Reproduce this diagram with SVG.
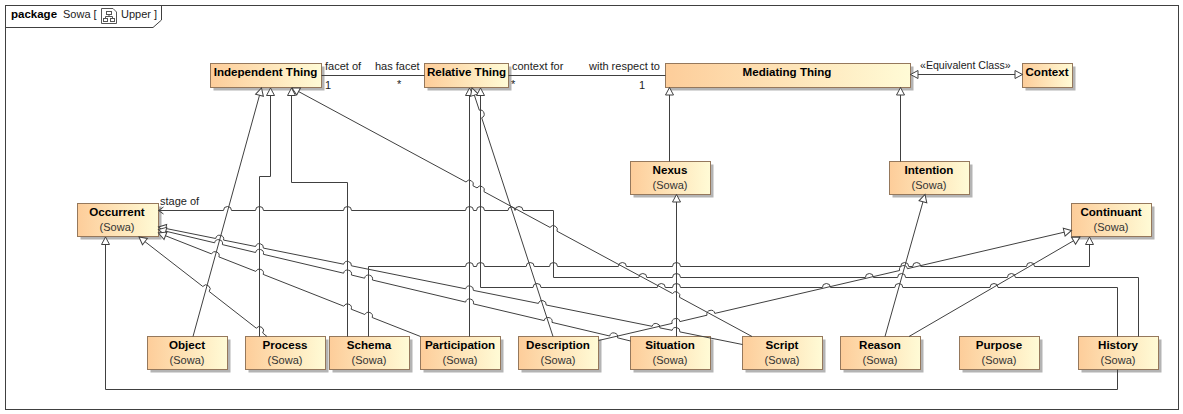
<svg xmlns="http://www.w3.org/2000/svg" width="1183" height="414" viewBox="0 0 1183 414">
<style>
text{font-family:"Liberation Sans",Arial,sans-serif;font-size:11px;fill:#222}
.t{font-weight:bold;font-size:11.6px;fill:#000;text-anchor:middle}
.s{text-anchor:middle;fill:#333}
.b{fill:url(#g);stroke:#95785c;stroke-width:1}
.sh{fill:#b4b4b4}
.c{fill:none;stroke:#404040;stroke-width:1}
.ge{marker-end:url(#tri)}
.gs{marker-start:url(#tri)}
.oe{marker-end:url(#open)}
</style>
<defs>
<linearGradient id="g" x1="0" y1="0" x2="1" y2="0"><stop offset="0" stop-color="#fdcd9a"/><stop offset="1" stop-color="#fffbd6"/></linearGradient>
<marker id="tri" markerUnits="userSpaceOnUse" markerWidth="12" markerHeight="12" viewBox="-10 -6 12 12" refX="0" refY="0" orient="auto-start-reverse"><path d="M-7.5 -4L0 0L-7.5 4Z" fill="#fff" stroke="#404040" stroke-width="1"/></marker>
<marker id="open" markerUnits="userSpaceOnUse" markerWidth="12" markerHeight="12" viewBox="-10 -6 12 12" refX="0" refY="0" orient="auto"><path d="M-5 -3.5L0 0L-5 3.5" fill="none" stroke="#404040" stroke-width="1"/></marker>
</defs>
<rect width="1183" height="414" fill="#fff"/>
<g id="frame">
<rect x="5.5" y="5.5" width="1173" height="404" fill="none" stroke="#404040"/>
<path d="M5.5 27.5H153L161.5 20V5.5" fill="none" stroke="#404040"/>
<text x="11" y="18" style="font-weight:bold;font-size:11.5px;fill:#000">package</text>
<text x="63" y="18">Sowa [</text>
<g fill="none" stroke="#555" stroke-width="1">
<path d="M101.5 8.5H113L116.5 12V23.5H101.5Z"/>
<rect x="106.5" y="11.5" width="5" height="3"/><rect x="103.5" y="18.5" width="4" height="3"/><rect x="110.5" y="18.5" width="4" height="3"/>
<path d="M109 14.5V16.5H105.5V18.5M109 16.5H112.5V18.5"/>
</g>
<text x="121" y="18">Upper ]</text>
</g>
<g id="n-independent"><rect class="sh" x="213.5" y="66.5" width="111" height="24"/><rect class="b" x="210.5" y="63.5" width="111" height="24"/><text class="t" x="265.5" y="76">Independent Thing</text></g>
<g id="n-relative"><rect class="sh" x="427.5" y="66.5" width="84" height="24"/><rect class="b" x="424.5" y="63.5" width="84" height="24"/><text class="t" x="466.5" y="76">Relative Thing</text></g>
<g id="n-mediating"><rect class="sh" x="668.5" y="66.5" width="245" height="24"/><rect class="b" x="665.5" y="63.5" width="245" height="24"/><text class="t" x="787" y="76">Mediating Thing</text></g>
<g id="n-context"><rect class="sh" x="1025.5" y="66.5" width="50" height="24"/><rect class="b" x="1022.5" y="63.5" width="50" height="24"/><text class="t" x="1047" y="76">Context</text></g>
<g id="n-nexus"><rect class="sh" x="633.5" y="164.5" width="80" height="33"/><rect class="b" x="630.5" y="161.5" width="80" height="33"/><text class="t" x="670" y="174">Nexus</text><text class="s" x="670" y="189">(Sowa)</text></g>
<g id="n-intention"><rect class="sh" x="892.5" y="164.5" width="80" height="33"/><rect class="b" x="889.5" y="161.5" width="80" height="33"/><text class="t" x="929" y="174">Intention</text><text class="s" x="929" y="189">(Sowa)</text></g>
<g id="n-occurrent"><rect class="sh" x="80.5" y="206.5" width="81" height="33"/><rect class="b" x="77.5" y="203.5" width="81" height="33"/><text class="t" x="117" y="216">Occurrent</text><text class="s" x="117" y="231">(Sowa)</text></g>
<g id="n-continuant"><rect class="sh" x="1074.5" y="206.5" width="80" height="33"/><rect class="b" x="1071.5" y="203.5" width="80" height="33"/><text class="t" x="1111" y="216">Continuant</text><text class="s" x="1111" y="231">(Sowa)</text></g>
<g id="n-object"><rect class="sh" x="150.5" y="339.5" width="80" height="33"/><rect class="b" x="147.5" y="336.5" width="80" height="33"/><text class="t" x="187" y="349">Object</text><text class="s" x="187" y="364">(Sowa)</text></g>
<g id="n-process"><rect class="sh" x="248.5" y="339.5" width="80" height="33"/><rect class="b" x="245.5" y="336.5" width="80" height="33"/><text class="t" x="285" y="349">Process</text><text class="s" x="285" y="364">(Sowa)</text></g>
<g id="n-schema"><rect class="sh" x="332.5" y="339.5" width="80" height="33"/><rect class="b" x="329.5" y="336.5" width="80" height="33"/><text class="t" x="369" y="349">Schema</text><text class="s" x="369" y="364">(Sowa)</text></g>
<g id="n-participation"><rect class="sh" x="423.5" y="339.5" width="80" height="33"/><rect class="b" x="420.5" y="336.5" width="80" height="33"/><text class="t" x="460" y="349">Participation</text><text class="s" x="460" y="364">(Sowa)</text></g>
<g id="n-description"><rect class="sh" x="521.5" y="339.5" width="80" height="33"/><rect class="b" x="518.5" y="336.5" width="80" height="33"/><text class="t" x="558" y="349">Description</text><text class="s" x="558" y="364">(Sowa)</text></g>
<g id="n-situation"><rect class="sh" x="633.5" y="339.5" width="80" height="33"/><rect class="b" x="630.5" y="336.5" width="80" height="33"/><text class="t" x="670" y="349">Situation</text><text class="s" x="670" y="364">(Sowa)</text></g>
<g id="n-script"><rect class="sh" x="745.5" y="339.5" width="80" height="33"/><rect class="b" x="742.5" y="336.5" width="80" height="33"/><text class="t" x="782" y="349">Script</text><text class="s" x="782" y="364">(Sowa)</text></g>
<g id="n-reason"><rect class="sh" x="843.5" y="339.5" width="80" height="33"/><rect class="b" x="840.5" y="336.5" width="80" height="33"/><text class="t" x="880" y="349">Reason</text><text class="s" x="880" y="364">(Sowa)</text></g>
<g id="n-purpose"><rect class="sh" x="962.5" y="339.5" width="80" height="33"/><rect class="b" x="959.5" y="336.5" width="80" height="33"/><text class="t" x="999" y="349">Purpose</text><text class="s" x="999" y="364">(Sowa)</text></g>
<g id="n-history"><rect class="sh" x="1081.5" y="339.5" width="80" height="33"/><rect class="b" x="1078.5" y="336.5" width="80" height="33"/><text class="t" x="1118" y="349">History</text><text class="s" x="1118" y="364">(Sowa)</text></g>
<g id="connectors">
<path class="c" d="M321.5 75.5H424.5"/>
<path class="c" d="M508.5 75.5H665.5"/>
<path class="c ge gs" d="M910.5 74.5H1022.5"/>
<path class="c ge" d="M669.5 161.5V87.5"/>
<path class="c ge" d="M900.5 161.5V87.5"/>
<path class="c ge" d="M193 336.5L261.5 88"/>
<path class="c ge" d="M259.5 336.5V176.5H270.5V88"/>
<path class="c ge" d="M347.5 336.5V182.5H291.5V88"/>
<path class="c gs" d="M292 88L466 182A4 4 0 0 1 473 185.8L477 187.9A4 4 0 0 1 484 191.7L550 227.4A4 4 0 0 1 557 231.2L672.5 293.5A4 4 0 0 1 679.5 297.3L752 336.5"/>
<path class="c ge" d="M469.5 336.5V88"/>
<path class="c gs" d="M472 88L479.3 110.2A4 4 0 0 1 481.7 117.8L553 336.5"/>
<path class="c ge" d="M676.5 336.5V194.5"/>
<path class="c ge" d="M885 336.5L925 194.5"/>
<path class="c ge" d="M909 336.5L1080 237"/>
<path class="c ge" d="M1117.5 369.5V389.5H105.5V237"/>
<path class="c oe" d="M1138.5 336.5V277.5H1015.4A4 4 0 0 0 1007.4 277.5H905.6A4 4 0 0 0 897.6 277.5H873.4A4 4 0 0 0 865.4 277.5H680.5A4 4 0 0 0 672.5 277.5H646.8A4 4 0 0 0 638.8 277.5H553.5V210.5H523A4 4 0 0 0 515 210.5A3.5 3.5 0 0 0 508 210.5H484.5A4 4 0 0 0 476.5 210.5H473.5A4 4 0 0 0 465.5 210.5H351.5A4 4 0 0 0 343.5 210.5H263.5A4 4 0 0 0 255.5 210.5H231.5A4 4 0 0 0 223.5 210.5H158.5"/>
<path class="c ge" d="M368.5 336.5V266.5H465.5A4 4 0 0 1 473.5 266.5H476.5A4 4 0 0 1 484.5 266.5H526.2A4 4 0 0 1 534.2 266.5H549.5A4 4 0 0 1 557.5 266.5H618.4A4 4 0 0 1 626.4 266.5H672.5A4 4 0 0 1 680.5 266.5H900.7A4 4 0 0 1 908.7 266.5H912.7A4 4 0 0 1 920.7 266.5H1026.5A4 4 0 0 1 1034.5 266.5H1089.5V237"/>
<path class="c ge" d="M1117.5 336.5V287.5H998A4 4 0 0 0 990 287.5H902.8A4 4 0 0 0 894.8 287.5H830.4A4 4 0 0 0 822.4 287.5H680.5A4 4 0 0 0 672.5 287.5H665.3A4 4 0 0 0 657.3 287.5H541A4 4 0 0 0 533 287.5H480.5V88"/>
<path class="c ge" d="M598.5 340.5L672.1 323.4A4 4 0 0 1 679.9 321.6L707 315.2A4 4 0 0 1 714.8 313.4L899.6 270.5A4 4 0 0 1 907.4 268.7L1071.5 230.5"/>
<path class="c gs" d="M158.5 227L215.7 238.5A4 4 0 0 1 223.6 240.1L255.6 246.5A4 4 0 0 1 263.4 248.1L343.6 264.2A4 4 0 0 1 351.4 265.8L465.6 288.8A4 4 0 0 1 473.4 290.4L538.4 303.4A4 4 0 0 1 546.2 305L652.1 326.3A4 4 0 0 1 659.9 327.9L672.1 330.3A4 4 0 0 1 679.9 331.9L742.5 344.5"/>
<path class="c gs" d="M158.5 229.5L214.6 242.8A4 4 0 0 1 222.4 244.6L255.6 252.5A4 4 0 0 1 263.4 254.3L343.6 273.2A4 4 0 0 1 351.4 275L364.6 278.2A4 4 0 0 1 372.4 280L465.6 302.1A4 4 0 0 1 473.4 303.9L544.2 320.6A4 4 0 0 1 552 322.4L609.7 336A4 4 0 0 1 617.5 337.8L630.5 341"/>
<path class="c gs" d="M158.5 233L211.5 253.9A4 4 0 0 1 218.9 256.9L255.8 271.4A4 4 0 0 1 263.2 274.4L343.8 306.2A4 4 0 0 1 351.2 309.2L364.8 314.5A4 4 0 0 1 372.2 317.5L420.5 336.5"/>
<path class="c gs" d="M139 237L202.8 286.5A4 4 0 0 1 209.2 291.5L256.3 328.2A4 4 0 0 1 262.7 333L267 336.5"/>
<text x="325" y="70">facet of</text>
<text x="375" y="70">has facet</text>
<text x="325" y="89">1</text>
<text x="397" y="88">*</text>
<text x="512" y="70">context for</text>
<text x="589" y="70">with respect to</text>
<text x="511" y="88">*</text>
<text x="639" y="89">1</text>
<text x="920" y="69" style="font-size:10.6px">«Equivalent Class»</text>
<text x="160" y="205">stage of</text>
</g>
</svg>
